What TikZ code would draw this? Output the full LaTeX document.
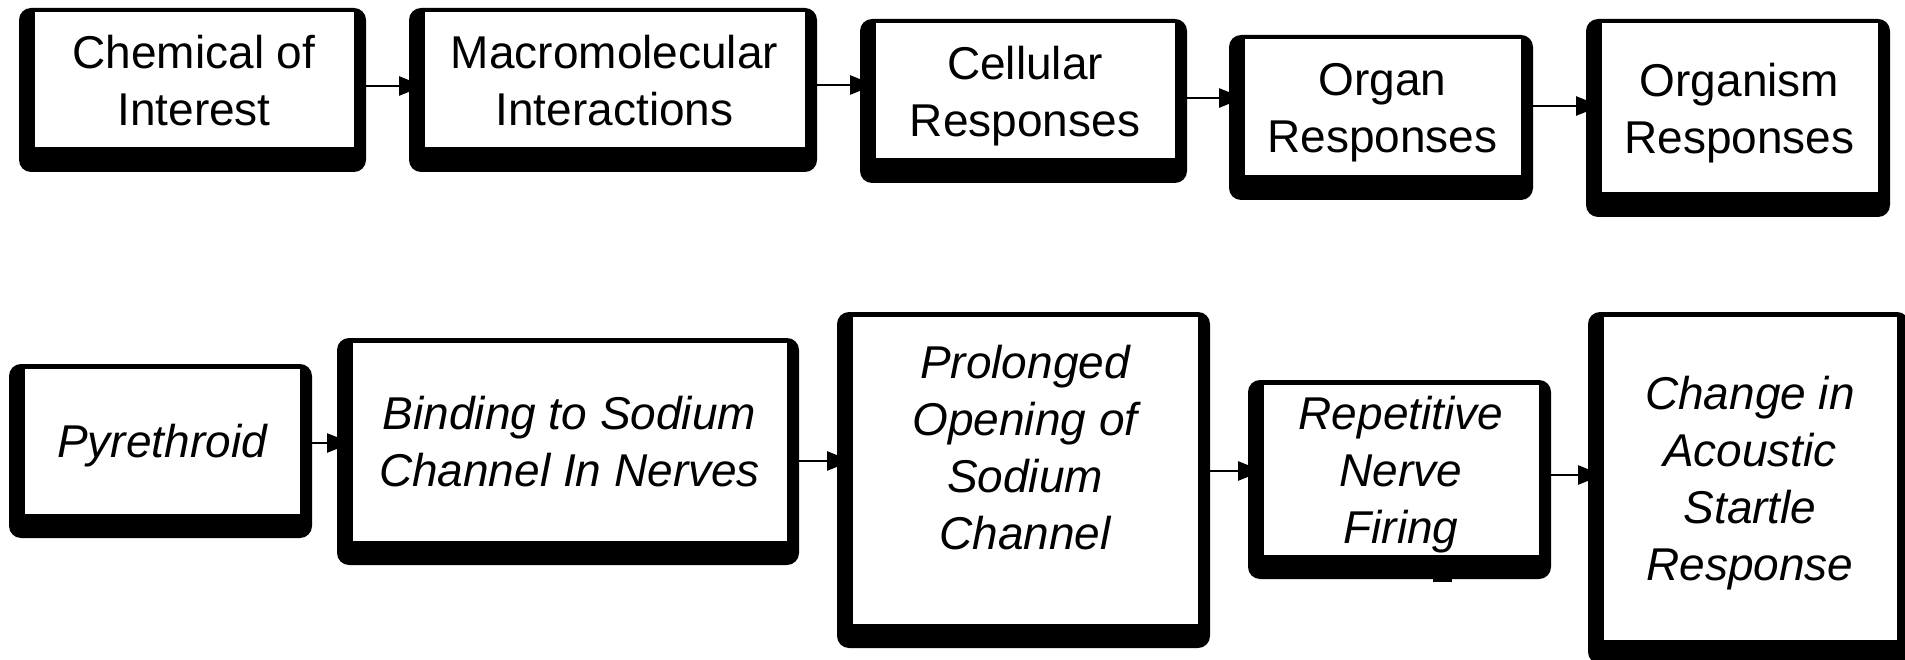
\documentclass[tikz,border=0pt]{standalone}
\usepackage{fontspec}
\setmainfont{Liberation Sans}
\usetikzlibrary{arrows.meta,backgrounds}
\newcommand\outerbox[1]{\fill[black,rounded corners=12pt] ([shift={(-15,-4)}]#1.north west) rectangle ([shift={(12,24)}]#1.south east);}
\begin{document}
\begin{tikzpicture}[x=1pt,y=-1pt,
  box/.style={draw=black, line width=1pt, fill=white, inner sep=0pt, outer sep=0pt,
    align=center, text depth=0pt, font=\fontsize{46}{57}\selectfont},
  ibox/.style={box, font=\fontsize{46}{57}\selectfont\itshape},
  txt/.style={inner sep=0pt, align=center, text depth=0pt, font=\fontsize{46}{57}\selectfont\itshape},
  arr/.style={line width=2.5pt, -{Triangle[length=25pt,width=19pt]}}]
\useasboundingbox (0,0) rectangle (1905,660);
% top row
\node[box, minimum width=320pt, minimum height=136pt] (n1) at (194,80) {Chemical of\\Interest};
\node[box, minimum width=381pt, minimum height=136pt] (n2) at (614.5,80) {Macromolecular\\Interactions};
\node[box, minimum width=300pt, minimum height=136pt] (n3) at (1025,91) {Cellular\\Responses};
\node[box, minimum width=277pt, minimum height=137pt] (n4) at (1382.5,107.5) {Organ\\Responses};
\node[box, minimum width=277pt, minimum height=170pt] (n5) at (1739.5,108) {Organism\\Responses};
% bottom row
\node[ibox, minimum width=276pt, minimum height=146pt] (n6) at (162,441) {Pyrethroid};
\node[ibox, minimum width=435pt, minimum height=199pt] (n7) at (569.5,441.5) {Binding to Sodium\\Channel In Nerves};
\node[ibox, minimum width=346pt, minimum height=308pt] (n8) at (1025,470) {};
\node[txt] (t8) at (1025,447) {Prolonged\\Opening of\\Sodium\\Channel};
\node[ibox, minimum width=276pt, minimum height=171pt] (n9) at (1401,469.5) {Repetitive\\Nerve\\Firing};
\node[ibox, minimum width=294pt, minimum height=324pt] (n10) at (1750,478) {Change in\\Acoustic\\Startle\\Response};
\begin{scope}[on background layer]
  \fill[white] (0,0) rectangle (1905,660);
  \outerbox{n1}\outerbox{n2}\outerbox{n3}\outerbox{n4}\outerbox{n5}
  \outerbox{n6}\outerbox{n7}\outerbox{n8}\outerbox{n9}\outerbox{n10}
  \fill[black] (1433,570) rectangle (1452,582);
\end{scope}
% connectors
\draw[arr] (n1.east |- 0,86) -- (n2.west |- 0,86);
\draw[arr] (n2.east |- 0,85) -- (n3.west |- 0,85);
\draw[arr] (n3.east |- 0,98) -- (n4.west |- 0,98);
\draw[arr] (n4.east |- 0,106) -- (n5.west |- 0,106);
\draw[arr] (n6.east |- 0,443) -- (n7.west |- 0,443);
\draw[arr] (n7.east |- 0,461) -- (n8.west |- 0,461);
\draw[arr] (n8.east |- 0,471) -- (n9.west |- 0,471);
\draw[arr] (n9.east |- 0,475) -- (n10.west |- 0,475);
\end{tikzpicture}
\end{document}
